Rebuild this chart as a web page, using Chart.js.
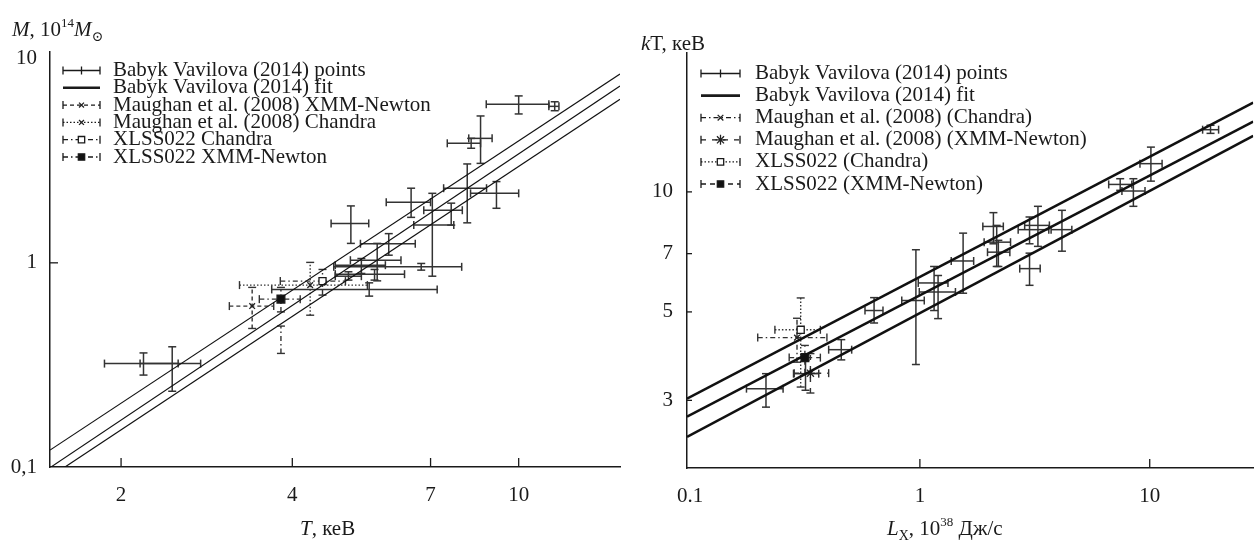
<!DOCTYPE html>
<html>
<head>
<meta charset="utf-8">
<script src="https://cdn.jsdelivr.net/npm/chart.js@4.4.1/dist/chart.umd.min.js"></script>
<style>
  body { margin: 0; background: #fff; }
  #wrap { position: relative; width: 1260px; height: 544px; overflow: hidden; background: #fff;
          font-family: "Liberation Serif", "DejaVu Serif", serif; color: #1a1a1a; }
  canvas { position: absolute; top: 0; }
  #mt { left: 0; }
  #lt { left: 630px; }
  .ttl { position: absolute; font-size: 21px; white-space: nowrap; line-height: 1; }
  .ttl sup { font-size: 13px; position: relative; top: -9px; vertical-align: baseline; }
  .ttl sub { font-size: 14px; position: relative; top: 5px; vertical-align: baseline; }
</style>
</head>
<body>
<div id="wrap">
  <canvas id="mt" width="630" height="544"></canvas>
  <canvas id="lt" width="630" height="544"></canvas>
  <div class="ttl" style="left:12px;top:19px"><i>M</i>, 10<sup>14</sup><i>M</i><sub>⊙</sub></div>
  <div class="ttl" style="left:641px;top:33px"><i>k</i>T, кеВ</div>
  <div class="ttl" style="left:300px;top:518px"><i>T</i>, кеВ</div>
  <div class="ttl" style="left:887px;top:518px"><i>L</i><sub>X</sub>, 10<sup>38</sup> Дж/с</div>
</div>
<script>
Chart.defaults.font.family = '"Liberation Serif", "DejaVu Serif", serif';
Chart.defaults.font.size = 21;
Chart.defaults.color = '#1a1a1a';
Chart.defaults.animation = false;

// rows: [x, xLow, xHigh, y, yLow, yHigh]
// M–T panel: T in keV, M in 10^14 Msun
const mtBabyk = [
  [2.19, 1.87, 2.52, 0.321, 0.282, 0.362],
  [2.46, 2.16, 2.76, 0.321, 0.235, 0.388],
  [10.0, 8.77, 11.3, 5.98, 5.36, 6.57],
  [11.57, 11.3, 11.77, 5.84, 5.56, 6.15],
  [8.57, 8.17, 8.98, 4.07, 3.07, 5.24],
  [8.25, 7.49, 8.57, 3.85, 3.64, 4.07],
  [8.12, 7.38, 8.78, 2.32, 1.57, 3.05],
  [9.14, 8.23, 10.0, 2.19, 1.85, 2.50],
  [7.61, 6.81, 7.96, 1.81, 1.53, 1.96],
  [7.05, 6.54, 7.69, 1.53, 0.86, 2.19],
  [6.47, 5.85, 7.00, 1.98, 1.67, 2.32],
  [5.91, 5.27, 6.58, 1.24, 1.09, 1.39],
  [6.74, 4.73, 7.94, 0.956, 0.921, 0.993],
  [5.46, 3.68, 7.19, 0.741, 0.687, 0.798],
  [5.07, 4.68, 5.45, 1.56, 1.245, 1.90],
  [5.64, 5.06, 6.21, 1.03, 0.816, 1.245],
  [5.29, 4.76, 5.83, 0.974, 0.887, 1.05],
  [5.58, 4.76, 6.30, 0.880, 0.823, 0.928],
  [5.02, 4.76, 5.29, 0.860, 0.823, 0.904]
];
const mtMaughanXmm = [[3.40, 3.10, 3.71, 0.614, 0.477, 0.758]];
const mtMaughanChandra = [[4.30, 3.23, 5.42, 0.778, 0.554, 1.005]];
const mtXlssChandra = [[4.52, 3.81, 4.96, 0.814, 0.695, 0.928]];
const mtXlssXmm = [
  [3.82, 3.50, 4.13, 0.664, 0.575, 0.758],
  [3.82, 3.82, 3.82, 0.42, 0.36, 0.49]
];
const mtFitT = [1.5, 15.07];
const mtFitUpper = [0.121, 8.41];
const mtFitMid = [0.0993, 7.35];
const mtFitLower = [0.0894, 6.32];
const mtTicksT = [2, 4, 7, 10];
const mtTicksM = [0.1, 1, 10];

// kT–L panel: L in 10^38 J/s, kT in keV
const ltBabyk = [
  [0.214, 0.176, 0.254, 3.21, 2.885, 3.50],
  [0.318, 0.282, 0.363, 3.50, 3.18, 3.78],
  [0.455, 0.401, 0.505, 4.02, 3.79, 4.26],
  [0.632, 0.577, 0.691, 5.04, 4.69, 5.43],
  [0.961, 0.834, 1.045, 5.34, 3.69, 7.16],
  [1.153, 0.984, 1.325, 5.91, 5.04, 6.50],
  [1.200, 0.994, 1.428, 5.61, 4.81, 6.17],
  [1.542, 1.369, 1.714, 6.71, 5.57, 7.88],
  [2.089, 1.879, 2.307, 8.19, 7.41, 8.87],
  [2.159, 1.904, 2.480, 7.48, 6.50, 8.24],
  [2.195, 1.969, 2.463, 7.06, 6.50, 7.56],
  [3.00, 2.677, 3.638, 8.04, 7.41, 8.65],
  [3.263, 2.857, 3.660, 8.24, 7.30, 9.20],
  [4.151, 3.723, 4.583, 8.04, 7.10, 8.99],
  [3.00, 2.719, 3.338, 6.42, 5.83, 7.02],
  [7.44, 6.63, 8.36, 10.44, 10.09, 10.79],
  [8.49, 7.57, 9.54, 10.05, 9.20, 10.79],
  [10.12, 9.07, 11.32, 11.77, 10.64, 12.95],
  [18.39, 16.99, 19.94, 14.32, 14.02, 14.69]
];
const ltMaughanChandra = [[0.292, 0.197, 0.394, 4.31, 3.74, 4.82]];
const ltMaughanXmm = [[0.334, 0.284, 0.401, 3.51, 3.13, 3.93]];
const ltXlssChandra = [[0.303, 0.234, 0.369, 4.51, 3.24, 5.42]];
const ltXlssXmm = [[0.316, 0.270, 0.369, 3.84, 3.50, 4.12]];
const ltFitL = [0.097, 28.2];
const ltFitUpper = [3.03, 16.75];
const ltFitMid = [2.73, 15.0];
const ltFitLower = [2.43, 13.82];
const ltTicksL = [0.1, 1, 10];
const ltTicksT = [3, 5, 7, 10];

const INK = '#1a1a1a';
const BAR = '#333';

const toPts = rows => rows.map(([x, xMin, xMax, y, yMin, yMax]) => ({ x, y, xMin, xMax, yMin, yMax }));
const toLine = (xs, ys) => xs.map((x, i) => ({ x, y: ys[i] }));

function seg(ctx, x0, y0, x1, y1) {
  ctx.beginPath(); ctx.moveTo(x0, y0); ctx.lineTo(x1, y1); ctx.stroke();
}

// crosses for each measurement, drawn under the markers
const errorBars = {
  id: 'errorBars',
  beforeDatasetsDraw(chart) {
    const { ctx, scales: { x, y } } = chart;
    chart.data.datasets.forEach(ds => {
      if (!ds.err) return;
      ctx.save();
      ctx.strokeStyle = BAR;
      ctx.lineWidth = ds.barWidth || 1.4;
      const c = ds.cap || 4;
      ds.data.forEach(p => {
        const cx = x.getPixelForValue(p.x), cy = y.getPixelForValue(p.y);
        const xa = x.getPixelForValue(p.xMin), xb = x.getPixelForValue(p.xMax);
        const ya = y.getPixelForValue(p.yMin), yb = y.getPixelForValue(p.yMax);
        ctx.setLineDash(ds.dash || []);
        if (xb - xa > 1) seg(ctx, xa, cy, xb, cy);
        if (ya - yb > 1) seg(ctx, cx, ya, cx, yb);
        ctx.setLineDash([]);
        if (xb - xa > 1) { seg(ctx, xa, cy - c, xa, cy + c); seg(ctx, xb, cy - c, xb, cy + c); }
        if (ya - yb > 1) { seg(ctx, cx - c, ya, cx + c, ya); seg(ctx, cx - c, yb, cx + c, yb); }
      });
      ctx.restore();
    });
  }
};

// short tick marks pointing into the plot
const innerTicks = {
  id: 'innerTicks',
  afterDraw(chart, args, o) {
    const { ctx, chartArea: a, scales: { x, y } } = chart;
    ctx.save();
    ctx.strokeStyle = INK;
    ctx.lineWidth = 1.3;
    o.xs.forEach(v => { const px = x.getPixelForValue(v); seg(ctx, px, a.bottom, px, a.bottom - o.lenX); });
    o.ys.forEach(v => { const py = y.getPixelForValue(v); seg(ctx, a.left, py, a.left + o.lenY, py); });
    ctx.restore();
  }
};

// legend with little error-bar samples
const seriesLegend = {
  id: 'seriesLegend',
  afterDraw(chart, args, o) {
    const ctx = chart.ctx;
    ctx.save();
    ctx.font = '21px "Liberation Serif", serif';
    ctx.textBaseline = 'middle';
    let row = 0;
    chart.data.datasets.forEach(ds => {
      if (!ds.label) return;
      const yy = o.top + row * o.rowH;
      const x0 = o.left, x1 = o.left + o.symW, xm = (x0 + x1) / 2;
      ctx.strokeStyle = INK;
      if (ds.fit) {
        ctx.lineWidth = o.fitW;
        ctx.setLineDash([]);
        seg(ctx, x0, yy, x1, yy);
      } else {
        ctx.lineWidth = 1.3;
        ctx.setLineDash(ds.dash || []);
        seg(ctx, x0, yy, x1, yy);
        ctx.setLineDash([]);
        seg(ctx, x0, yy - 4, x0, yy + 4);
        seg(ctx, x1, yy - 4, x1, yy + 4);
        const r = ds.legendRadius || 0;
        if (r > 0) {
          ctx.fillStyle = ds.backgroundColor;
          ctx.strokeStyle = ds.borderColor;
          ctx.lineWidth = ds.borderWidth || 1.3;
          Chart.helpers.drawPoint(ctx, { pointStyle: ds.pointStyle, radius: r, borderWidth: ctx.lineWidth, rotation: 0 }, xm, yy);
        } else {
          seg(ctx, xm, yy - 4, xm, yy + 4);
        }
      }
      ctx.fillStyle = INK;
      ctx.fillText(ds.label, o.textX, yy);
      row++;
    });
    ctx.restore();
  }
};

function pointSeries(label, rows, style) {
  return Object.assign({
    label, data: toPts(rows), err: true,
    pointRadius: 0, pointHoverRadius: 0,
    borderColor: INK, backgroundColor: '#fff', borderWidth: 1.3
  }, style);
}

function fitLine(label, xs, ys, width) {
  return {
    label, fit: true, data: toLine(xs, ys), showLine: true,
    borderColor: '#111', borderWidth: width, pointRadius: 0, pointHoverRadius: 0
  };
}

function logAxis(min, max, ticks, fmt, pad, fitSize, horizontal) {
  return {
    type: 'logarithmic', min, max,
    afterBuildTicks: s => { s.ticks = ticks.map(v => ({ value: v })); },
    afterFit: s => { if (horizontal) s.height = fitSize; else s.width = fitSize; },
    ticks: { autoSkip: false, maxRotation: 0, padding: pad, color: INK, callback: fmt },
    grid: { drawOnChartArea: false, drawTicks: false },
    border: { display: true, color: INK, width: 1.5 }
  };
}

new Chart(document.getElementById('mt'), {
  type: 'scatter',
  data: {
    datasets: [
      pointSeries('Babyk Vavilova (2014) points', mtBabyk, { barWidth: 1.5 }),
      fitLine('Babyk Vavilova (2014) fit', mtFitT, mtFitUpper, 1.2),
      fitLine('', mtFitT, mtFitMid, 1.2),
      fitLine('', mtFitT, mtFitLower, 1.2),
      pointSeries('Maughan et al. (2008) XMM-Newton', mtMaughanXmm,
        { dash: [4, 3], pointStyle: 'crossRot', pointRadius: 4, legendRadius: 3.5, borderColor: '#222' }),
      pointSeries('Maughan et al. (2008) Chandra', mtMaughanChandra,
        { dash: [1.5, 2], pointStyle: 'crossRot', pointRadius: 4, legendRadius: 3.5, borderColor: '#222' }),
      pointSeries('XLSS022 Chandra', mtXlssChandra,
        { dash: [5, 3, 1.5, 3], pointStyle: 'rect', pointRadius: 5, legendRadius: 4.5, backgroundColor: '#fff' }),
      pointSeries('XLSS022 XMM-Newton', mtXlssXmm,
        { dash: [5, 3, 1.5, 3], pointStyle: 'rect', pointRadius: [5.5, 0], legendRadius: 4.5, backgroundColor: '#111' })
    ]
  },
  options: {
    responsive: false,
    layout: { padding: { top: 52, right: 10, left: 0, bottom: 0 } },
    plugins: {
      legend: { display: false }, tooltip: { enabled: false },
      innerTicks: { xs: mtTicksT, ys: [1], lenX: 9, lenY: 8 },
      seriesLegend: { left: 63, symW: 37, textX: 113, top: 70.5, rowH: 17.3, fitW: 2.5 }
    },
    scales: {
      x: logAxis(1.5, 15.07, mtTicksT, v => String(v), 16, 77, true),
      y: logAxis(0.1, 10.78, mtTicksM, v => String(v).replace('.', ','), 13, 50, false)
    }
  },
  plugins: [errorBars, innerTicks, seriesLegend]
});

new Chart(document.getElementById('lt'), {
  type: 'scatter',
  data: {
    datasets: [
      pointSeries('Babyk Vavilova (2014) points', ltBabyk, { barWidth: 1.5 }),
      fitLine('Babyk Vavilova (2014) fit', ltFitL, ltFitUpper, 2.6),
      fitLine('', ltFitL, ltFitMid, 2.6),
      fitLine('', ltFitL, ltFitLower, 2.6),
      pointSeries('Maughan et al. (2008) (Chandra)', ltMaughanChandra,
        { dash: [5, 3, 1.5, 3], pointStyle: 'crossRot', pointRadius: 4, legendRadius: 4, borderColor: '#222' }),
      pointSeries('Maughan et al. (2008) (XMM-Newton)', ltMaughanXmm,
        { dash: [5, 6], pointStyle: 'star', pointRadius: 5, legendRadius: 5, borderColor: '#222' }),
      pointSeries('XLSS022 (Chandra)', ltXlssChandra,
        { dash: [1.5, 2], pointStyle: 'rect', pointRadius: 5, legendRadius: 4.5, backgroundColor: '#fff' }),
      pointSeries('XLSS022 (XMM-Newton)', ltXlssXmm,
        { dash: [5, 4], pointStyle: 'rect', pointRadius: 5.5, legendRadius: 4.5, backgroundColor: '#111' })
    ]
  },
  options: {
    responsive: false,
    layout: { padding: { top: 53, right: 0, left: 0, bottom: 0 } },
    plugins: {
      legend: { display: false }, tooltip: { enabled: false },
      innerTicks: { xs: [1, 10], ys: ltTicksT, lenX: 9, lenY: 5 },
      seriesLegend: { left: 71, symW: 39, textX: 125, top: 73.5, rowH: 22.1, fitW: 2.8 }
    },
    scales: {
      x: logAxis(0.097, 28.2, ltTicksL, v => String(v), 16, 76, true),
      y: logAxis(2.03, 22.3, ltTicksT, v => String(v), 14, 57, false)
    }
  },
  plugins: [errorBars, innerTicks, seriesLegend]
});
</script>
</body>
</html>
